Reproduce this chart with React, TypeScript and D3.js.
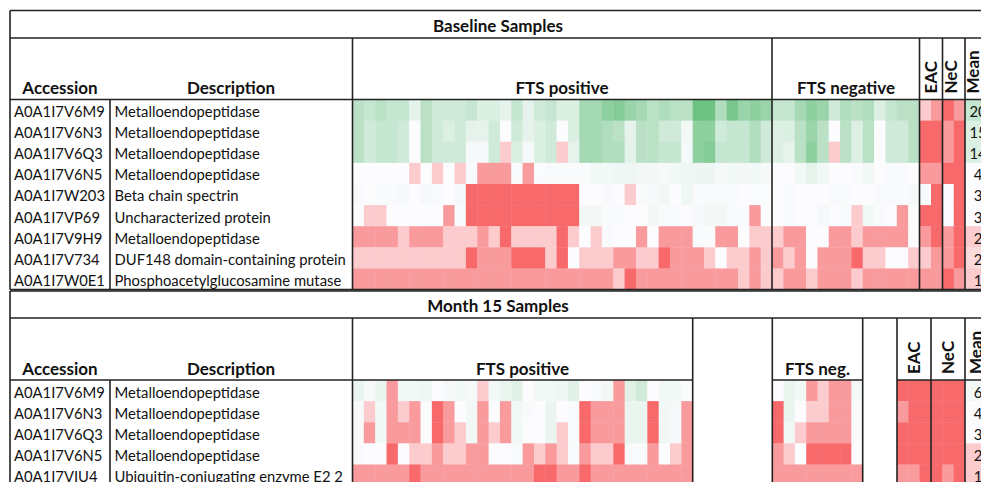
import React from 'react'
import * as d3 from 'd3'

// ---- Baseline samples ----
const baseAccessions = ['A0A1I7V6M9', 'A0A1I7V6N3', 'A0A1I7V6Q3', 'A0A1I7V6N5', 'A0A1I7W203', 'A0A1I7VP69', 'A0A1I7V9H9', 'A0A1I7V734', 'A0A1I7W0E1']
const baseDescriptions = ['Metalloendopeptidase', 'Metalloendopeptidase', 'Metalloendopeptidase', 'Metalloendopeptidase', 'Beta chain spectrin', 'Uncharacterized protein', 'Metalloendopeptidase', 'DUF148 domain-containing protein', 'Phosphoacetylglucosamine mutase']

// shade per sample: negative = red (low), 0 = white, positive = green (high)
const baseFtsPos = [
  [3, 2.5, 3, 2.5, 2.5, 1, 3, 2, 2, 2, 2.5, 1.5, 1.5, 1, 2.5, 1, 2, 2.5, 1.5, 1.5, 4, 4, 5, 5.5, 4.5, 4, 3, 3.5, 3, 3, 6.5, 6.5, 3.5, 6, 4.5, 5, 4.5],
  [3, 2, 2.5, 2.5, 2, 0, 3, 2, 1.5, 2, 1, 1, 2, 0, 2, 1, 1.5, 2, 0, 1.5, 4, 4, 3.5, 3, 1, 3, 3, 2, 2, 0.5, 5, 5, 2, 2.5, 2.5, 3.5, 2],
  [3, 2, 2.5, 2.5, 2, 0, 3, 2, 2, 2, 0.3, 0.3, 2, -1, 1.5, 0.3, 1.5, 2, -1, 1, 4, 4, 3.5, 3.5, 1, 3, 3, 2.5, 2.5, 0.3, 5, 5.5, 2.5, 2.5, 2.5, 3.5, 2],
  [0, 0, 0, 0, 0, -1, 0, -1, 0, -1, 0.2, -2, -2, -2, 0.2, -2, 0.1, 0.2, 0.2, 0.2, 0.1, 0.5, 0.5, 0.6, 0.6, 0.4, 0.4, 0.3, 0.5, 0.6, 0.7, 0.7, 0.3, 0.5, 0.4, 0.5, 0.3],
  [0.2, 0, 0.2, 0.2, 0.3, 0, 0.3, 0.2, 0, 0.3, -3, -3, -3, -3, -3, -3, -3, -3, -3, -3, 0, 0, 0.2, 0, -1, 0.2, 0.3, 0.5, 0, 0.6, 0.2, 0.2, 0.2, 0.2, 0, 0.1, 0.1],
  [0, -1, -1, 0, 0, 0, 0, 0, -2, 0.2, -3, -3, -3, -3, -3, -3, -3, -3, -3, -3, 0.4, 0.4, 0.2, 0.2, 0, 0, 0.4, 0.2, 0.2, 0, 0.3, 0.4, 0.4, 0.2, 0.2, -2, 0],
  [-2, -2, -2, -2, -1, -2, -2, -2, -1, -1, -1, -2, -1, -3, -1, -1, -1, -1, -3, -1, 0, -1, 0.2, 0, 0, -2, 0, -2, -2, -2, 0.2, 0.2, -2, -2, 0, -1, -1],
  [-1, -1, -1, -1, -1, -1, -1, -1, -1, -1, -3, -2, -2, -2, -3, -3, -3, -1, -3, 0, -1, -1, -1, -2, -2, -1, -1, -3, -2, -2, -2, -1, 0, -1, -1, -2, -1],
  [-2, -2, -2, -2, -2, -2, -2, -2, -2, -2, -2, -2, -2, -2, -2, -2, -2, -2, -2, -2, -2, -2, -2, -1, -3, -2, -2, -2, -2, -2, -2, -2, -2, -2, -1, -2, -1],
]
const baseFtsNeg = [
  [2.5, 2.5, 4, 5, 4.5, 2, 3.5, 3, 3.5, 1.5, 2.5, 3, 3],
  [1.5, 1.5, 3, 4.5, 3, 0, 3, 1.5, 3, 0, 2, 2, 3],
  [1.5, 1, 3, 5, 3, -1, 3, 1.5, 3, 0, 2, 2, 3],
  [0, 0, 0.5, 1, 0.5, 0, 0, 0.2, 0.5, 0, 0.2, 0.2, 0],
  [0, 0.2, 0, 0, 0, 0.2, 0.2, 0, 0, 0.2, 0.2, 0.2, 0.3],
  [0, 0.2, 0, 0, 0.3, 0, 0.2, -1, 0.5, 0.2, 0, -2, 0],
  [-1, -2, -2, 0, 0, -2, -2, -1, -2, -2, -2, -2, 0],
  [-2, -1, -2, 0, -2, -2, -2, -3, -1, -1, 0, 0, -1],
  [-1, -2, -2, -1, -2, -2, -2, -1, -2, -2, -2, -2, -2],
]
const baseEac = [[-1, -2], [-3, -3], [-3, -3], [-2, -2], [0.3, -3], [-3, -3], [-2, -3], [-1, -2], [-2, -2]]
const baseNec = [[-3, -2], [-2, -3], [-2, -3], [-3, -3], [0, -3], [0, -3], [-2, -3], [-2, -3], [-3, -2]]
const baseMean = [20, 15, 14, 4, 3, 3, 2, 2, 1]
const baseMeanShade = [[2.5], [1.5], [1.5], [0], [0], [0], [-1], [-0.7], [-1]]

// ---- Month 15 samples ----
const m15Accessions = ['A0A1I7V6M9', 'A0A1I7V6N3', 'A0A1I7V6Q3', 'A0A1I7V6N5', 'A0A1I7VIU4']
const m15Descriptions = ['Metalloendopeptidase', 'Metalloendopeptidase', 'Metalloendopeptidase', 'Metalloendopeptidase', 'Ubiquitin-conjugating enzyme E2 2']
const m15FtsPos = [
  [0.8, 0.3, 0.8, -2, 0.5, 0.5, 0.6, 0, 0.3, 0.5, 0.3, -1, 0.5, 0.8, 1.2, 0, 0.5, 0.5, 0.6, 1.2, 0, 0.2, 0.4, -2, 1.2, 2, 0, 0.5, 0.5, 0.1],
  [0.2, -1, 0.5, -2, -1, -2, 0.1, -3, -2, 0, 0.5, -2, 0, -2, 0.5, 0.2, 0, 0.8, 0, 0.2, -3, -2, -2, -2, 0.8, 0.8, -3, 0.5, 0.3, -2],
  [0.2, -2, 0.5, -2, -2, -2, 0, -3, -2, -1, 0.5, -2, -1, -2, 0.5, 0, 0, 0.8, -1, 0.2, -3, -2, -2, -2, 0.8, 0.8, -3, 0.5, 0.3, -2],
  [0.2, 0, 0, -3, 0, -1, -1, -2, -1, -1, -2, -2, 0, 0, 0.2, -2, -1, -2, -1, 0.2, -2, -1, -1, -3, 0.2, 0.2, -2, 0, -1, -2],
  [-2, -2, -2, -2, -2, -3, -2, -2, -2, -2, -2, -2, -2, -2, -2, -2, -3, -3, -2, -2, -3, -2, -2, -2, -2, -2, -2, -2, -2, -2],
]
const m15FtsNeg = [
  [0, 0.8, 0.5, -2, -1, -2, -2, 0.5],
  [-3, 0.8, 0, -1, -1, -2, -2, 0.2],
  [-3, 0.5, -1, -2, -2, -2, -2, 0.2],
  [-2, -1, 0, -3, -3, -3, -3, 0],
  [-2, -2, -2, -2, -2, -2, -2, -2],
]
const m15Eac = [[-3, -3, -3], [-2, -3, -3], [-3, -3, -3], [-3, -3, -3], [-2, -2, -3]]
const m15Nec = [[-3, -3, -3], [-3, -3, -3], [-3, -3, -3], [-3, -3, -3], [-3, -2, -3]]
const m15Mean = [6, 4, 3, 2, 1]
const m15MeanShade = [[0.5], [0], [0], [-1], [-1]]

const color = d3.scaleLinear<string>().domain([-3, 0, 7]).range(['#F8696B', '#FCFCFF', '#63BE7B'])

const FONT = "Lato, 'Open Sans', sans-serif"
const LINE = '#222'
const ROW_H = 21.12

type Block = { x0: number; x1: number; data: number[][] }

const cells = (key: string, b: Block, y: d3.ScaleBand<number>) => {
  const x = d3.scaleLinear().domain([0, b.data[0].length]).range([b.x0, b.x1])
  return b.data.flatMap((row, i) =>
    row.map((v, j) => (
      <rect key={`${key}-${i}-${j}`} x={x(j)} y={y(i)} width={x(j + 1) - x(j) + 0.4}
        height={y.bandwidth() + 0.4} fill={color(v)} />
    ))
  )
}

const Table = (p: {
  top: number, titleBottom: number, headerBottom: number, title: string,
  accessions: string[], descriptions: string[], blocks: Block[], mean: number[],
  posLabel: [string, number], negLabel: [string, number],
  rotated: [string, number][], vlines: number[], headerLine: [number, number][],
}) => {
  const n = p.accessions.length
  const y = d3.scaleBand<number>().domain(d3.range(n)).range([p.headerBottom, p.headerBottom + n * ROW_H])
  const bottom = p.headerBottom + n * ROW_H
  const hb = p.headerBottom - 5.5
  return (
    <g>
      {p.blocks.map((b, k) => cells(`${p.title}${k}`, b, y))}
      <g fontFamily={FONT} fontSize={14.8} fill="#111">
        {p.accessions.map((a, i) => <text key={'a' + i} x={14} y={y(i)! + 17.5}>{a}</text>)}
        {p.descriptions.map((d, i) => <text key={'d' + i} x={114.5} y={y(i)! + 17.5}>{d}</text>)}
        {p.mean.map((m, i) => <text key={'m' + i} x={978} y={y(i)! + 17.5} textAnchor="middle">{m}</text>)}
      </g>
      <g fontFamily={FONT} fontSize={17} fontWeight="bold" fill="#111" textAnchor="middle">
        <text x={498} y={p.titleBottom - 6}>{p.title}</text>
        <text x={60} y={hb}>Accession</text>
        <text x={231} y={hb}>Description</text>
        <text x={p.posLabel[1]} y={hb}>{p.posLabel[0]}</text>
        <text x={p.negLabel[1]} y={hb}>{p.negLabel[0]}</text>
        {p.rotated.map(([t, x]) => (
          <text key={t} transform={`translate(${x},${hb - 0.5}) rotate(-90)`} textAnchor="start">{t}</text>
        ))}
      </g>
      <g stroke={LINE} strokeWidth={1.6}>
        <line x1={10} x2={995} y1={p.top} y2={p.top} />
        <line x1={10} x2={995} y1={p.titleBottom} y2={p.titleBottom} />
        {p.headerLine.map(([a, b]) => <line key={a} x1={a} x2={b} y1={p.headerBottom} y2={p.headerBottom} />)}
        <line x1={10} x2={995} y1={bottom} y2={bottom} />
        <line x1={10} x2={10} y1={p.top} y2={bottom} />
        <line x1={110} x2={110} y1={p.headerBottom} y2={bottom} />
        {p.vlines.map(v => <line key={v} x1={v} x2={v} y1={p.titleBottom} y2={bottom} />)}
      </g>
    </g>
  )
}

export default function App() {
  return (
    <svg width={981} height={482} style={{ position: 'absolute', left: 0, top: 0, display: 'block', background: '#fff' }}>
      <rect width={981} height={482} fill="#fff" />
      <Table top={10.5} titleBottom={38} headerBottom={99.5} title="Baseline Samples"
        accessions={baseAccessions} descriptions={baseDescriptions} mean={baseMean}
        blocks={[
          { x0: 352.5, x1: 772, data: baseFtsPos },
          { x0: 772, x1: 919.5, data: baseFtsNeg },
          { x0: 919.5, x1: 942.5, data: baseEac },
          { x0: 942.5, x1: 965, data: baseNec },
          { x0: 965, x1: 995, data: baseMeanShade },
        ]}
        posLabel={['FTS positive', 562]} negLabel={['FTS negative', 846]}
        rotated={[['EAC', 936.5], ['NeC', 957], ['Mean', 979]]}
        vlines={[352.5, 772, 919.5, 942.5, 965]}
        headerLine={[[10, 995]]}
      />
      <Table top={291} titleBottom={318} headerBottom={380} title="Month 15 Samples"
        accessions={m15Accessions} descriptions={m15Descriptions} mean={m15Mean}
        blocks={[
          { x0: 352.5, x1: 692.7, data: m15FtsPos },
          { x0: 772.3, x1: 862.7, data: m15FtsNeg },
          { x0: 897, x1: 931, data: m15Eac },
          { x0: 931, x1: 965, data: m15Nec },
          { x0: 965, x1: 995, data: m15MeanShade },
        ]}
        posLabel={['FTS positive', 522.5]} negLabel={['FTS neg.', 817.5]}
        rotated={[['EAC', 919.5], ['NeC', 953.5], ['Mean', 981.5]]}
        vlines={[352.5, 692.7, 772.3, 862.7, 897, 931, 965]}
        headerLine={[[10, 692.7], [772.3, 862.7], [897, 995]]}
      />
    </svg>
  )
}
